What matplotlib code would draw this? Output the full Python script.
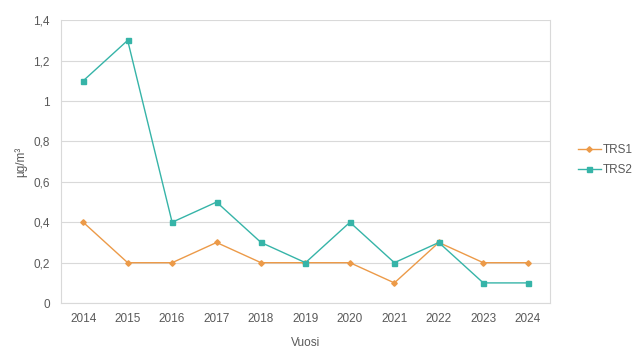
import matplotlib
matplotlib.use("Agg")
from matplotlib import pyplot as plt
from matplotlib.ticker import FuncFormatter

plt.rcParams['font.family'] = ['Liberation Sans', 'DejaVu Sans']

years = ['2014', '2015', '2016', '2017', '2018', '2019', '2020', '2021', '2022', '2023', '2024']
trs1 = [0.4, 0.2, 0.2, 0.3, 0.2, 0.2, 0.2, 0.1, 0.3, 0.2, 0.2]
trs2 = [1.1, 1.3, 0.4, 0.5, 0.3, 0.2, 0.4, 0.2, 0.3, 0.1, 0.1]

orange = '#EC9A48'
teal = '#36B4A8'
grid_c = '#D9D9D9'
text_c = '#595959'

fig = plt.figure(figsize=(6.4, 3.6), dpi=100)
ax = fig.add_axes([0.0953, 0.158, 0.764, 0.786])

x = range(len(years))
ax.plot(x, trs1, color=orange, lw=1.0, marker='D', ms=2.8, label='TRS1')
ax.plot(x, trs2, color=teal, lw=1.0, marker='s', ms=3.6, label='TRS2')

ax.set_xlim(-0.5, len(years) - 0.5)
ax.set_ylim(0, 1.4)
ax.set_yticks([0, 0.2, 0.4, 0.6, 0.8, 1.0, 1.2, 1.4])
ax.yaxis.set_major_formatter(FuncFormatter(lambda v, p: ('%g' % round(v, 1)).replace('.', ',')))
ax.set_xticks(list(x))
ax.set_xticklabels(years)
ax.grid(axis='y', color=grid_c, lw=0.8)
ax.set_axisbelow(True)

ax.spines['top'].set_visible(False)
for s in ['left', 'bottom', 'right']:
    ax.spines[s].set_color(grid_c)
    ax.spines[s].set_linewidth(0.8)

ax.tick_params(axis='both', colors=text_c, labelsize=8.5, length=0)
ax.tick_params(axis='x', pad=7)
ax.tick_params(axis='y', pad=8)

ax.set_xlabel('Vuosi', color=text_c, fontsize=8.5, labelpad=9)
ax.set_ylabel('µg/m³', color=text_c, fontsize=8.5)
ax.yaxis.set_label_coords(-0.068, 0.5)

leg = ax.legend(loc='center left', bbox_to_anchor=(1.035, 0.505), frameon=False,
                fontsize=8.5, handlelength=2.0, labelspacing=0.65, handletextpad=0.1)
for t in leg.get_texts():
    t.set_color(text_c)

fig.savefig('out.png', dpi=100)
